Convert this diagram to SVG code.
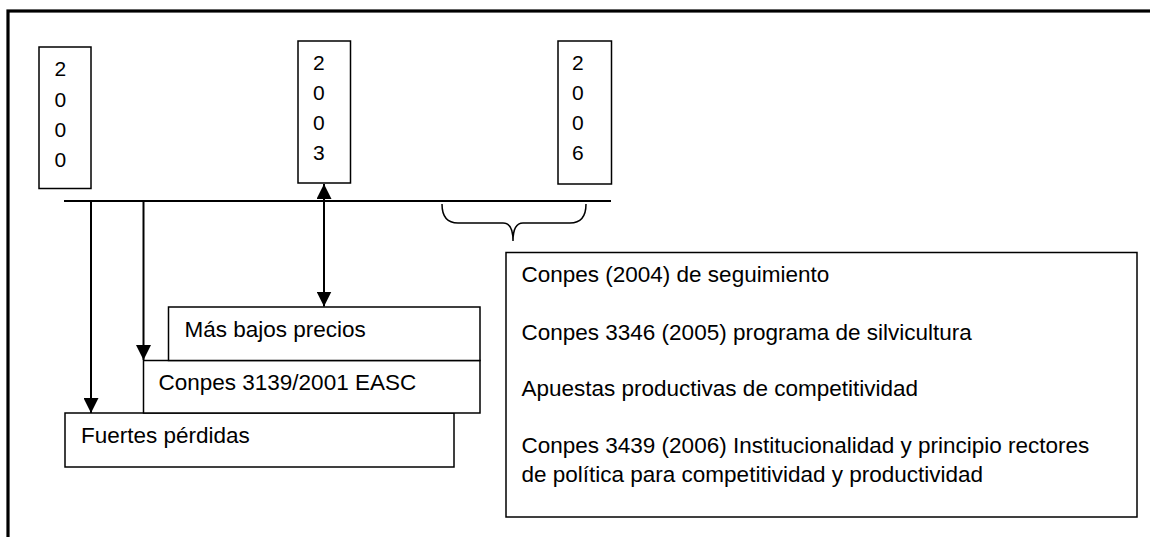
<svg xmlns="http://www.w3.org/2000/svg" width="1150" height="537" viewBox="0 0 1150 537">
<style>
  .box { fill: #ffffff; stroke: #000000; stroke-width: 1.5; }
  .frame { fill: none; stroke: #000000; stroke-width: 3.2; }
  .t { font-family: "Liberation Sans", Arial, sans-serif; font-size: 22.5px; fill: #000000; }
  .d { font-family: "Liberation Sans", Arial, sans-serif; font-size: 21px; fill: #000000; }
  .line { fill: none; stroke: #000000; stroke-width: 2; }
  .brace { fill: none; stroke: #000000; stroke-width: 1.5; }
</style>
<defs>
  <marker id="arrow" markerUnits="userSpaceOnUse" markerWidth="15" markerHeight="15" refX="14" refY="7" orient="auto-start-reverse" viewBox="0 0 14 14">
    <path d="M0,0 L14,7 L0,14 Z" fill="#000000"/>
  </marker>
</defs>
<rect x="0" y="0" width="1150" height="537" fill="#ffffff"/>
<rect class="frame" x="8" y="11" width="1200" height="600"/>

<g id="y2000">
  <rect class="box" x="39" y="47" width="52" height="141.5"/>
  <text class="d" x="54.5" y="76">2</text>
  <text class="d" x="54.5" y="106.5">0</text>
  <text class="d" x="54.5" y="136.5">0</text>
  <text class="d" x="54.5" y="166.5">0</text>
</g>
<g id="y2003">
  <rect class="box" x="298" y="41" width="52.5" height="142"/>
  <text class="d" x="313" y="70">2</text>
  <text class="d" x="313" y="100">0</text>
  <text class="d" x="313" y="130">0</text>
  <text class="d" x="313" y="160">3</text>
</g>
<g id="y2006">
  <rect class="box" x="558" y="41" width="53.5" height="143"/>
  <text class="d" x="572" y="70">2</text>
  <text class="d" x="572" y="100">0</text>
  <text class="d" x="572" y="130">0</text>
  <text class="d" x="572" y="160">6</text>
</g>

<g id="fuertes">
  <rect class="box" x="65" y="413" width="389" height="54"/>
  <text class="t" x="81" y="443">Fuertes pérdidas</text>
</g>
<g id="conpes3139">
  <rect class="box" x="143.5" y="360.5" width="336.5" height="52.5"/>
  <text class="t" x="158.5" y="390">Conpes 3139/2001 EASC</text>
</g>
<g id="masbajos">
  <rect class="box" x="168.5" y="307" width="311.5" height="53.5"/>
  <text class="t" x="184.5" y="337">Más bajos precios</text>
</g>

<g id="conpesList">
  <rect class="box" x="506" y="252.5" width="631" height="264.5"/>
  <text class="t" x="521.5" y="282">Conpes (2004) de seguimiento</text>
  <text class="t" x="521.5" y="340">Conpes 3346 (2005) programa de silvicultura</text>
  <text class="t" x="521.5" y="396">Apuestas productivas de competitividad</text>
  <text class="t" x="521.5" y="453">Conpes 3439 (2006) Institucionalidad y principio rectores</text>
  <text class="t" x="521.5" y="482">de política para competitividad y productividad</text>
</g>

<g id="connectors">
  <line class="line" x1="64" y1="201" x2="611" y2="201"/>
  <line class="line" x1="91" y1="201" x2="91" y2="413" marker-end="url(#arrow)"/>
  <line class="line" x1="143.5" y1="201" x2="143.5" y2="360" marker-end="url(#arrow)"/>
  <line class="line" x1="324" y1="184" x2="324" y2="306.5" marker-start="url(#arrow)" marker-end="url(#arrow)"/>
  <path class="brace" d="M442,204 Q442,223 458,223 L503,223 Q513,223 513,241 Q513,223 523,223 L570,223 Q586,223 586,204"/>
</g>
</svg>
